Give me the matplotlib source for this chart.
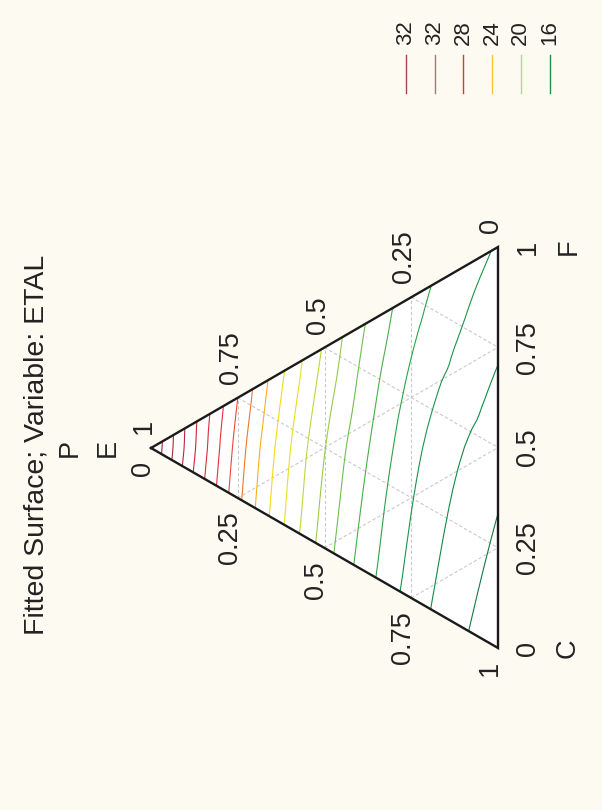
import numpy as np
import matplotlib
matplotlib.use("Agg")
import matplotlib.pyplot as plt
import matplotlib.tri as mtri

plt.rcParams['font.family'] = ['Liberation Sans', 'DejaVu Sans']

# fitted ETAL values along three profiles of the mixture triangle
p_levels = [1.0, 0.875, 0.75, 0.625, 0.5, 0.375, 0.25, 0.125, 0.0]
z_c_edge = [34.0, 29.9, 26.3, 23.2, 20.5, 18.35, 16.6, 15.35, 14.3]   # F = 0
z_middle = [34.0, 30.1, 26.6, 23.6, 21.05, 19.05, 17.35, 16.2, 15.4]  # C = F
z_f_edge = [34.0, 30.2, 27.0, 24.2, 21.85, 19.9, 18.45, 17.55, 16.9]  # C = 0

contour_levels = list(range(15, 34))
contour_colors = ['#0f7a45', '#138a48', '#1c9448', '#2ea24a', '#48b04a', '#6cc050',
                  '#98cc48', '#c0d838', '#e8e020', '#f8d818', '#f8b020', '#f07828',
                  '#ec4838', '#e43038', '#d82c38', '#c82838', '#b82838', '#a82838',
                  '#982838']

legend_labels = ['32', '32', '28', '24', '20', '16']
legend_colors = ['#a84058', '#b87070', '#d83838', '#f8c830', '#a8dc88', '#209048']

tick_values = [0, 0.25, 0.5, 0.75, 1]
tick_text = ['0', '0.25', '0.5', '0.75', '1']

# corners of the triangle in pixel coordinates (page is drawn rotated)
APEX = np.array([151.0, 448.0])
C_CORNER = np.array([498.0, 648.0])
F_CORNER = np.array([498.0, 247.0])

def tern( p, c, f ):
    p, c, f = np.asarray( p ), np.asarray( c ), np.asarray( f )
    x = p * APEX[0] + c * C_CORNER[0] + f * F_CORNER[0]
    y = p * APEX[1] + c * C_CORNER[1] + f * F_CORNER[1]
    return x, y

bg = '#fdfaf1'
fig = plt.figure( figsize = ( 6.02, 8.10 ), dpi = 100, facecolor = bg )
ax = fig.add_axes( [ 0, 0, 1, 1 ] )
ax.set_xlim( 0, 602 )
ax.set_ylim( 810, 0 )
ax.set_facecolor( bg )
ax.axis( 'off' )

# plotting area
tx, ty = tern( [ 1, 0, 0 ], [ 0, 1, 0 ], [ 0, 0, 1 ] )
ax.fill( tx, ty, color = 'white', zorder = 1 )

# dashed grid
for v in [ 0.25, 0.5, 0.75 ]:
    r = 1 - v
    for p, c, f in [ ( [ v, v ], [ r, 0 ], [ 0, r ] ),
                     ( [ r, 0 ], [ v, v ], [ 0, r ] ),
                     ( [ r, 0 ], [ 0, r ], [ v, v ] ) ]:
        gx, gy = tern( p, c, f )
        ax.plot( gx, gy, color = '#c9c9c9', lw = 0.8, ls = ( 0, ( 3, 2 ) ), zorder = 2 )

# build scattered points from the profiles
pts_p, pts_c, pts_f, pts_z = [], [], [], []
for i, p in enumerate( p_levels ):
    r = 1 - p
    if r == 0:
        pts_p.append( p ); pts_c.append( 0 ); pts_f.append( 0 ); pts_z.append( z_middle[i] )
        continue
    for c, f, z in [ ( r, 0, z_c_edge[i] ), ( r / 2, r / 2, z_middle[i] ), ( 0, r, z_f_edge[i] ) ]:
        pts_p.append( p ); pts_c.append( c ); pts_f.append( f ); pts_z.append( z )

px, py = tern( pts_p, pts_c, pts_f )
tri = mtri.Triangulation( px, py )
z = np.array( pts_z )
refiner = mtri.UniformTriRefiner( tri )
interp = mtri.CubicTriInterpolator( tri, z, kind = 'geom' )
tri_f, z_f = refiner.refine_field( z, triinterpolator = interp, subdiv = 3 )
ax.tricontour( tri_f, z_f, levels = contour_levels, colors = contour_colors,
               linewidths = 0.8, zorder = 3 )

# triangle outline
ax.plot( np.append( tx, tx[0] ), np.append( ty, ty[0] ), color = '#1a1a1a', lw = 1.7,
         solid_joinstyle = 'miter', zorder = 4 )

fs = 19.5
# F axis along the base
for v, s in zip( tick_values, tick_text ):
    x, y = tern( 0, 1 - v, v )
    ax.text( x + 29.5, y, s, rotation = 90, ha = 'center', va = 'center', fontsize = fs, color = '#222222' )
# C axis along the left edge
for v, s in zip( tick_values, tick_text ):
    x, y = tern( 1 - v, v, 0 )
    ax.text( x - 8, y + 13, s, rotation = 90, ha = 'center', va = 'top', fontsize = fs, color = '#222222' )
# P axis along the right edge
for v, s in zip( tick_values, tick_text ):
    x, y = tern( v, 0, 1 - v )
    ax.text( x - 7, y - 14, s, rotation = 90, ha = 'center', va = 'bottom', fontsize = fs, color = '#222222' )

ax.text( 568, C_CORNER[1], 'C', rotation = 90, ha = 'center', va = 'center', fontsize = fs, color = '#222222' )
ax.text( 569, F_CORNER[1], 'F', rotation = 90, ha = 'center', va = 'center', fontsize = fs, color = '#222222' )
ax.text( 108, APEX[1], 'E', rotation = 90, ha = 'center', va = 'center', fontsize = fs, color = '#222222' )
ax.text( 70, APEX[1], 'P', rotation = 90, ha = 'center', va = 'center', fontsize = fs, color = '#222222' )

ax.text( 37, 445, 'Fitted Surface; Variable: ETAL', rotation = 90, ha = 'center', va = 'center',
         fontsize = 20.5, color = '#222222' )

# legend
for i, ( lab, col ) in enumerate( zip( legend_labels, legend_colors ) ):
    lx = 406 + i * 28.7
    ax.plot( [ lx, lx ], [ 55, 93 ], color = col, lw = 1.0 )
    ax.text( lx, 32.5, lab, rotation = 90, ha = 'center', va = 'center', fontsize = 16, color = '#222222' )

fig.savefig( 'out.png', dpi = 100, facecolor = bg )
